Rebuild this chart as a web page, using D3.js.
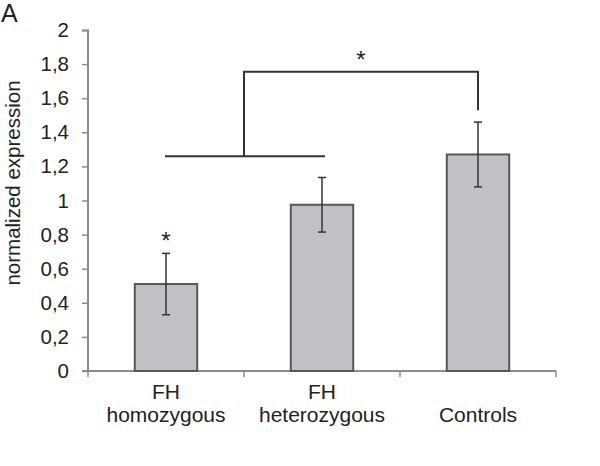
<!DOCTYPE html>
<html>
<head>
<meta charset="utf-8">
<script src="https://cdn.jsdelivr.net/npm/d3@7"></script>
<style>
  body { margin: 0; background: #fff; }
  svg { font-family: "Liberation Sans", Arial, sans-serif; }
</style>
</head>
<body>
<svg width="600" height="466"></svg>
<script>
const categories = [["FH", "homozygous"], ["FH", "heterozygous"], ["Controls"]];
const values = [0.51, 0.975, 1.27];
const errors = [0.18, 0.16, 0.19];
const yTicks = [0, 0.2, 0.4, 0.6, 0.8, 1, 1.2, 1.4, 1.6, 1.8, 2];
// significance bracket levels (in data units)
const bracketLow = 1.26;
const bracketHigh = 1.755;
const bracketDrop = 1.53;

const svg = d3.select("svg");
const margin = { left: 88, right: 44, top: 30, bottom: 95 };
const width = 600, height = 466;
const plotW = width - margin.left - margin.right;
const plotH = height - margin.top - margin.bottom;

const g = svg.append("g").attr("transform", `translate(${margin.left},${margin.top})`);

const x = d3.scaleBand()
  .domain(d3.range(categories.length))
  .range([0, plotW])
  .paddingInner(0.6)
  .paddingOuter(0.3);
const step = x.step();
const y = d3.scaleLinear().domain([0, 2]).range([plotH, 0]);

const axisColor = "#8a8c90";

// y axis
const yAxis = g.append("g")
  .call(d3.axisLeft(y).tickValues(yTicks).tickSize(6).tickPadding(13)
    .tickFormat(d => String(d).replace(".", ",")));
yAxis.select(".domain").attr("stroke", axisColor).attr("stroke-width", 2)
  .attr("d", `M-6,0.5H0V${plotH}`);
yAxis.selectAll(".tick line").attr("stroke", axisColor).attr("stroke-width", 1.5);
yAxis.selectAll(".tick text").attr("font-size", 20.5).attr("fill", "#222")
  .attr("font-family", "Liberation Sans, Arial, sans-serif");

// x axis baseline and ticks at category boundaries
g.append("line")
  .attr("x1", -6).attr("x2", plotW)
  .attr("y1", plotH).attr("y2", plotH)
  .attr("stroke", axisColor).attr("stroke-width", 2);
g.selectAll(".xtick")
  .data(d3.range(categories.length + 1))
  .enter().append("line")
  .attr("x1", d => d * step).attr("x2", d => d * step)
  .attr("y1", plotH).attr("y2", plotH + 6)
  .attr("stroke", axisColor).attr("stroke-width", 1.5);

// bars
g.selectAll(".bar")
  .data(values)
  .enter().append("rect")
  .attr("x", (d, i) => x(i))
  .attr("y", d => y(d))
  .attr("width", x.bandwidth())
  .attr("height", d => plotH - y(d))
  .attr("fill", "#c1c1c5")
  .attr("stroke", "#55575b")
  .attr("stroke-width", 2);

// error bars
const cx = i => x(i) + x.bandwidth() / 2;
values.forEach((v, i) => {
  const eg = g.append("g").attr("stroke", "#333").attr("stroke-width", 1.5);
  eg.append("line").attr("x1", cx(i)).attr("x2", cx(i))
    .attr("y1", y(v - errors[i])).attr("y2", y(v + errors[i]));
  [v - errors[i], v + errors[i]].forEach(e => {
    eg.append("line").attr("x1", cx(i) - 4).attr("x2", cx(i) + 4)
      .attr("y1", y(e)).attr("y2", y(e));
  });
});

// x labels
categories.forEach((lines, i) => {
  const t = g.append("text")
    .attr("x", i * step + step / 2)
    .attr("text-anchor", "middle")
    .attr("font-size", 21)
    .attr("fill", "#222");
  const y0 = lines.length === 2 ? plotH + 28 : plotH + 51;
  lines.forEach((l, k) => {
    t.append("tspan").attr("x", i * step + step / 2).attr("y", y0 + k * 23).text(l);
  });
});

// significance brackets
const midX = (cx(0) + cx(1)) / 2;
const br = g.append("g").attr("stroke", "#333").attr("stroke-width", 2).attr("fill", "none");
br.append("line").attr("x1", cx(0) - 1).attr("x2", cx(1) + 3)
  .attr("y1", y(bracketLow)).attr("y2", y(bracketLow));
br.append("path")
  .attr("d", `M${midX},${y(bracketLow)}V${y(bracketHigh)}H${cx(2)}V${y(bracketDrop)}`);

g.append("text")
  .attr("x", (midX + cx(2)) / 2).attr("y", y(bracketHigh) - 4)
  .attr("text-anchor", "middle").attr("font-size", 24).attr("fill", "#222")
  .text("*");
g.append("text")
  .attr("x", cx(0)).attr("y", y(values[0] + errors[0]) - 4)
  .attr("text-anchor", "middle").attr("font-size", 24).attr("fill", "#222")
  .text("*");

// y axis title
svg.append("text")
  .attr("transform", `translate(20,183) rotate(-90)`)
  .attr("text-anchor", "middle")
  .attr("font-size", 20.5)
  .attr("fill", "#222")
  .text("normalized expression");

// panel label
svg.append("text")
  .attr("x", 1).attr("y", 22)
  .attr("font-size", 25)
  .attr("fill", "#222")
  .text("A");
</script>
</body>
</html>
